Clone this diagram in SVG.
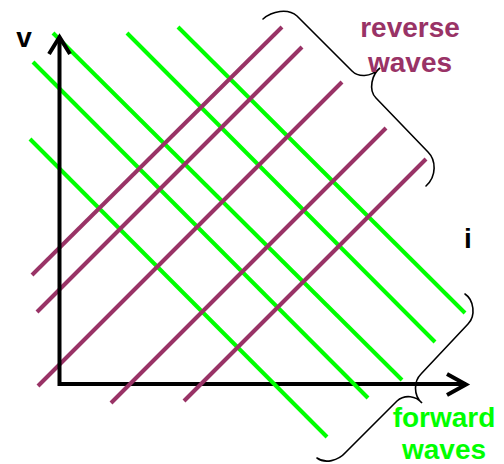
<svg xmlns="http://www.w3.org/2000/svg" width="504" height="464" viewBox="0 0 504 464">
<style>
.ax{fill:none;stroke:#000;stroke-width:4;stroke-linejoin:miter}
.fw{stroke:#00ff00;stroke-width:4}
.rv{stroke:#993366;stroke-width:4}
.br{fill:none;stroke:#000;stroke-width:1.6;stroke-linecap:round}
.lb{font-family:"Liberation Sans",Arial,sans-serif;font-weight:bold;font-size:28px;text-anchor:middle}
</style>
<rect width="504" height="464" fill="#fff"/>
<g id="i-axis">
<path class="ax" d="M58,384 L466,384"/>
<path class="ax" d="M447,374 L466,384.5 L447,395"/>
</g>
<g id="forward-waves">
<line class="fw" x1="178" y1="27" x2="465" y2="313"/>
<line class="fw" x1="127" y1="33" x2="435" y2="342"/>
<line class="fw" x1="53" y1="33" x2="402" y2="380"/>
<line class="fw" x1="33" y1="62" x2="368" y2="398"/>
<line class="fw" x1="30" y1="139" x2="327" y2="437"/>
</g>
<g id="reverse-waves">
<line class="rv" x1="282" y1="27" x2="32" y2="275"/>
<line class="rv" x1="302" y1="47" x2="37" y2="312"/>
<line class="rv" x1="342" y1="82" x2="38" y2="386"/>
<line class="rv" x1="386" y1="128" x2="111" y2="403"/>
<line class="rv" x1="426" y1="159" x2="184" y2="401"/>
</g>
<g id="v-axis">
<path class="ax" d="M59.5,386 L59.5,39"/>
<path class="ax" d="M49,54 L59.5,37 L70,54"/>
</g>
<g id="reverse-brace">
<path class="br" d="M263,19 C272,11 288,8 297,16 L352,71 C358,77 370,78 380,68 C372,74 368,90 376,98 L428,152 C436,160 437,176 426,186"/>
</g>
<g id="forward-brace">
<path class="br" d="M465,294 C474,300 476,316 468,324 L421,374 C414,381 413,395 422,403 C416,396 405,394 397,401 L346,452 C338,461 325,464 317,458"/>
</g>
<g id="labels">
<text class="lb" x="24" y="47" fill="#000">v</text>
<text class="lb" x="468" y="248" fill="#000">i</text>
<text class="lb" x="410" y="37" fill="#993366">reverse</text>
<text class="lb" x="410" y="72" fill="#993366">waves</text>
<text class="lb" x="444" y="427" fill="#00ff00">forward</text>
<text class="lb" x="444" y="459" fill="#00ff00">waves</text>
</g>
</svg>
